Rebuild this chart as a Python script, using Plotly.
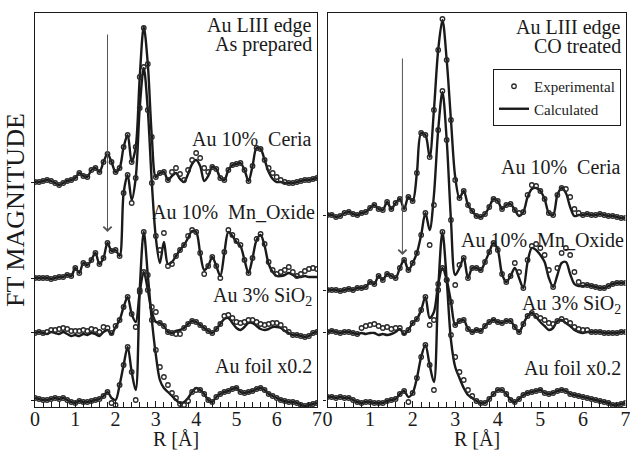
import plotly.graph_objects as go

# R grid [Angstrom]
R = [round(0.1 * i, 1) for i in range(71)]

# ---------------- As prepared (left panel) ----------------
ceria_prep_calc = [0,0,1,2,1,-1,-3,-1,1,2,
                   4,9,6,5,12,14,10,20,28,20,
                   10,14,35,47,20,35,105,155,118,45,
                   5,9,10,2,6,9,3,0,8,18,
                   22,16,1,6,15,13,4,2,12,17,
                   18,19,12,1,16,34,33,22,10,3,
                   0,0,-1,-1,-1,0,1,2,2,3,
                   4]
ceria_prep_exp = [0,0,1,2,1,-1,-3,-1,1,2,
                  4,9,6,5,12,14,10,20,28,20,
                  10,14,35,47,20,35,105,154,118,45,
                  5,9,10,2,10,14,8,2,12,22,
                  29,24,14,10,15,13,4,2,12,17,
                  18,19,12,1,16,34,33,22,14,9,
                  5,2,0,-1,-1,0,1,2,2,3,
                  4]
mn_prep_calc = [0,0,0,0,-1,0,1,1,3,2,
                10,5,15,13,18,25,14,20,35,27,
                28,22,85,103,78,100,170,210,168,95,
                40,15,36,14,16,22,28,33,40,47,
                46,25,8,12,21,12,2,25,46,42,
                36,32,18,5,20,38,43,32,14,6,
                2,2,3,5,3,1,1,2,1,1,
                1]
mn_prep_exp = [0,0,0,0,-1,0,1,1,3,2,
               10,5,15,13,18,25,14,20,35,27,
               28,22,85,103,75,100,170,211,168,95,
               42,28,45,12,14,22,28,33,42,48,
               46,25,4,12,21,12,0,26,48,43,
               37,33,18,5,20,39,44,34,16,8,
               4,6,8,11,6,2,4,7,9,10,
               9]
sio2_prep_calc = [-1,0,-1,-2,0,-1,-2,0,-2,-4,
                  -3,-4,-2,-3,-1,-2,-4,0,2,-2,
                  5,12,25,35,18,10,40,60,42,20,
                  10,9,6,0,-1,1,2,4,8,11,
                  10,7,4,1,-1,3,8,13,14,9,
                  4,2,5,9,9,6,3,2,3,5,
                  5,4,1,-1,-3,-3,-4,-5,-4,-1,
                  0]
sio2_prep_exp = [-1,0,-1,0,2,2,3,4,3,1,
                 1,1,2,1,3,2,0,5,4,-1,
                 6,12,25,35,18,5,40,60,42,25,
                 20,9,6,0,-1,-2,-2,4,8,11,
                 10,7,4,1,-1,3,8,16,17,14,
                 10,9,10,12,12,10,8,7,8,9,
                 9,7,3,0,-3,-3,-4,-5,-4,-1,
                 0]
foil_prep_calc = [2,1,0,0,1,2,1,2,0,-2,
                  -3,-1,-2,-2,-1,0,1,4,8,2,
                  0,15,35,53,28,10,110,168,125,80,
                  45,20,12,8,4,0,-3,-2,2,8,
                  12,10,6,0,-2,3,6,8,9,11,
                  12,8,7,8,9,11,12,10,6,4,
                  2,0,-1,-2,-2,-3,-5,-6,-5,-4,
                  -3]
foil_prep_exp = [2,1,0,0,1,2,1,2,0,-2,
                 -3,-1,-2,-2,-1,0,1,4,8,-3,
                 -5,15,35,53,28,0,110,168,125,80,
                 50,33,23,15,7,2,-4,-5,-1,8,
                 10,10,6,0,-2,3,6,8,9,11,
                 12,8,7,8,9,11,12,10,6,4,
                 2,0,-1,-2,-2,-3,-5,-6,-5,-4,
                 -3]

# ---------------- CO treated (right panel) ----------------
ceria_co_calc = [0,0,-2,-1,2,3,1,0,2,3,
                 7,10,6,5,13,6,12,16,6,18,
                 14,42,82,80,58,105,165,195,155,95,
                 38,17,24,10,4,-1,-2,1,8,16,
                 14,6,10,11,5,-1,3,18,26,27,
                 24,16,2,0,20,27,22,8,-1,0,
                 0,1,0,0,1,0,-1,-1,-2,-3,
                 -3]
ceria_co_exp = [0,0,-2,-1,2,3,1,0,2,3,
                7,10,6,5,13,6,12,16,6,18,
                14,42,82,80,58,105,165,196,155,95,
                35,17,24,10,4,-1,-2,1,8,16,
                14,6,10,11,5,2,3,20,30,29,
                24,16,2,0,20,27,26,18,6,2,
                0,1,0,0,1,0,-1,-1,-2,-3,
                -3]
mn_co_calc = [0,0,0,-1,0,1,0,2,2,3,
              8,6,14,10,16,14,12,22,30,20,
              27,37,55,77,60,95,160,198,150,70,
              15,22,32,12,22,22,20,28,38,47,
              40,16,8,14,22,12,2,28,42,40,
              35,28,12,3,15,27,28,16,6,4,
              4,5,4,3,2,2,4,6,7,7,
              7]
mn_co_exp = [0,0,0,-1,0,1,0,2,2,3,
             8,6,14,10,16,14,12,22,30,20,
             27,37,55,77,45,85,160,199,150,70,
             5,25,32,12,22,22,20,28,38,47,
             40,16,8,14,27,18,2,30,44,46,
             42,35,20,3,22,37,42,35,18,8,
             5,5,4,3,2,2,4,6,7,7,
             7]
sio2_co_calc = [0,1,0,-1,0,0,-1,-2,-1,-2,
                -1,-1,-3,-2,-3,-2,0,3,-2,2,
                9,13,22,35,14,20,48,64,52,30,
                7,11,12,3,0,2,1,6,10,12,
                10,9,11,11,5,0,8,16,19,15,
                10,6,2,4,11,12,9,6,2,0,
                -1,0,0,0,0,-1,-1,-1,-1,0,
                0]
sio2_co_exp = [0,1,0,-1,0,0,-1,-2,4,6,
               7,8,6,4,5,3,4,4,-1,2,
               9,13,22,35,7,12,48,64,52,30,
               7,11,12,3,0,2,1,6,10,12,
               10,9,11,11,5,0,8,16,19,16,
               14,12,9,8,11,13,11,9,5,3,
               2,2,0,0,0,-1,-1,-1,-1,0,
               0]
foil_co_calc = [3,3,2,3,2,2,0,-2,-3,-2,
                -2,-3,-3,-3,-1,0,1,6,9,3,
                7,22,43,55,35,18,110,168,120,60,
                33,22,12,5,2,-1,-3,-3,1,6,
                10,10,6,0,-2,1,5,7,8,9,
                10,7,6,7,9,10,9,6,5,4,
                3,2,1,0,-1,-2,-3,-5,-5,-4,
                -3]
foil_co_exp = [3,3,2,3,2,2,0,-2,-3,-2,
               -2,-3,-3,-3,-1,0,1,6,9,-2,
               7,22,43,55,35,10,110,168,120,65,
               43,28,20,10,4,-1,-3,-3,1,6,
               10,10,6,0,-2,1,5,7,8,9,
               10,7,6,7,9,10,9,6,5,4,
               3,2,1,0,-1,-2,-3,-5,-5,-4,
               -3]

# vertical stacking offsets of each sample
offsets_prep = [225, 129, 75, 7]
offsets_co = [192, 117, 75, 7]

sample_labels = ["Au 10%&nbsp; Ceria", "Au 10%&nbsp; Mn_Oxide", "Au 3% SiO<sub>2</sub>", "Au foil x0.2"]
label_y_prep = [268, 195, 111, 41]
label_y_co = [240, 167, 103, 39]

panels = [
    dict(xa="x", ya="y", title=["Au LIII edge", "As prepared"], title_y=[382, 363],
         calc=[ceria_prep_calc, mn_prep_calc, sio2_prep_calc, foil_prep_calc],
         exp=[ceria_prep_exp, mn_prep_exp, sio2_prep_exp, foil_prep_exp],
         off=offsets_prep, label_y=label_y_prep, arrow=(1.8, 175, 374)),
    dict(xa="x2", ya="y2", title=["Au LIII edge", "CO treated"], title_y=[380, 361],
         calc=[ceria_co_calc, mn_co_calc, sio2_co_calc, foil_co_calc],
         exp=[ceria_co_exp, mn_co_exp, sio2_co_exp, foil_co_exp],
         off=offsets_co, label_y=label_y_co, arrow=(1.76, 152, 350)),
]

FONT = "Liberation Serif, Times New Roman, serif"
INK = "#1a1a1a"

fig = go.Figure()
annotations = []
first = True
for p in panels:
    for calc, off in zip(p["calc"], p["off"]):
        fig.add_trace(go.Scatter(
            x=R, y=[v + off for v in calc], xaxis=p["xa"], yaxis=p["ya"],
            mode="lines", line=dict(color=INK, width=2.4, shape="spline", smoothing=0.9),
            name="Calculated", showlegend=first, legendrank=2))
        first = False
first = True
for p in panels:
    for exp, off in zip(p["exp"], p["off"]):
        fig.add_trace(go.Scatter(
            x=R, y=[v + off for v in exp], xaxis=p["xa"], yaxis=p["ya"],
            mode="markers",
            marker=dict(symbol="circle-open", size=4.5, color="#2a2a2a", line=dict(width=1.3)),
            name="Experimental", showlegend=first, legendrank=1))
        first = False

for p in panels:
    xr = p["xa"]
    yr = p["ya"]
    for txt, ty in zip(p["title"], p["title_y"]):
        annotations.append(dict(x=6.93, y=ty, xref=xr, yref=yr, text=txt, showarrow=False,
                                xanchor="right", yanchor="middle",
                                font=dict(family=FONT, size=20, color=INK)))
    for txt, ty in zip(sample_labels, p["label_y"]):
        xpos = 7.0 if "Mn" in txt else 6.93
        annotations.append(dict(x=xpos, y=ty, xref=xr, yref=yr, text=txt, showarrow=False,
                                xanchor="right", yanchor="middle",
                                font=dict(family=FONT, size=20, color=INK)))
    ax_r, tip, tail = p["arrow"]
    annotations.append(dict(x=ax_r, y=tip, ax=ax_r, ay=tail, xref=xr, yref=yr,
                            axref=xr, ayref=yr, text="", showarrow=True,
                            arrowhead=4, arrowsize=1.6, arrowwidth=1, arrowcolor="#555555"))
    # x-axis title
    dom_mid = {"x": (35 + 317) / 2 / 630, "x2": (327.5 + 626) / 2 / 630}[xr]
    annotations.append(dict(x=dom_mid, y=1 - 439 / 454, xref="paper", yref="paper",
                            text="R [Å]", showarrow=False, xanchor="center", yanchor="middle",
                            font=dict(family=FONT, size=20, color=INK)))

annotations.append(dict(x=15 / 630, y=1 - 210 / 454, xref="paper", yref="paper",
                        text="FT MAGNITUDE", textangle=-90, showarrow=False,
                        xanchor="center", yanchor="middle",
                        font=dict(family=FONT, size=26, color=INK)))

xaxis_common = dict(range=[0, 7], dtick=1, tick0=0, ticks="inside", ticklen=6, tickwidth=1,
                    tickcolor=INK, showline=True, linecolor=INK, linewidth=1.2, mirror=True,
                    showgrid=False, zeroline=False, ticklabelstandoff=-6,
                    ticklabeloverflow="allow",
                    tickfont=dict(family=FONT, size=20, color=INK),
                    minor=dict(dtick=0.2, ticks="inside", ticklen=5, tickcolor=INK),
                    automargin=False)
yaxis_common = dict(range=[0, 394], showticklabels=False, ticks="outside", ticklen=3,
                    tickcolor=INK, showline=True, linecolor=INK, linewidth=1.2, mirror=True,
                    showgrid=False, zeroline=False, automargin=False,
                    domain=[1 - 407 / 454, 1 - 13 / 454])

fig.update_layout(
    width=630, height=454,
    margin=dict(l=0, r=0, t=0, b=0),
    paper_bgcolor="white", plot_bgcolor="white",
    xaxis=dict(xaxis_common, domain=[35 / 630, 317 / 630], anchor="y"),
    xaxis2=dict(xaxis_common, domain=[327.5 / 630, 625.5 / 630], anchor="y2"),
    yaxis=dict(yaxis_common, anchor="x", tickvals=offsets_prep),
    yaxis2=dict(yaxis_common, anchor="x2", tickvals=offsets_co),
    annotations=annotations,
    legend=dict(x=621 / 630, xanchor="right", y=1 - 69 / 454, yanchor="top",
                bgcolor="white", bordercolor=INK, borderwidth=1,
                font=dict(family=FONT, size=15, color=INK), itemwidth=30,
                tracegroupgap=0),
    showlegend=True,
)

fig.write_html("out.html", config={"displayModeBar": False},
               post_script="document.body.style.margin='0px';")
